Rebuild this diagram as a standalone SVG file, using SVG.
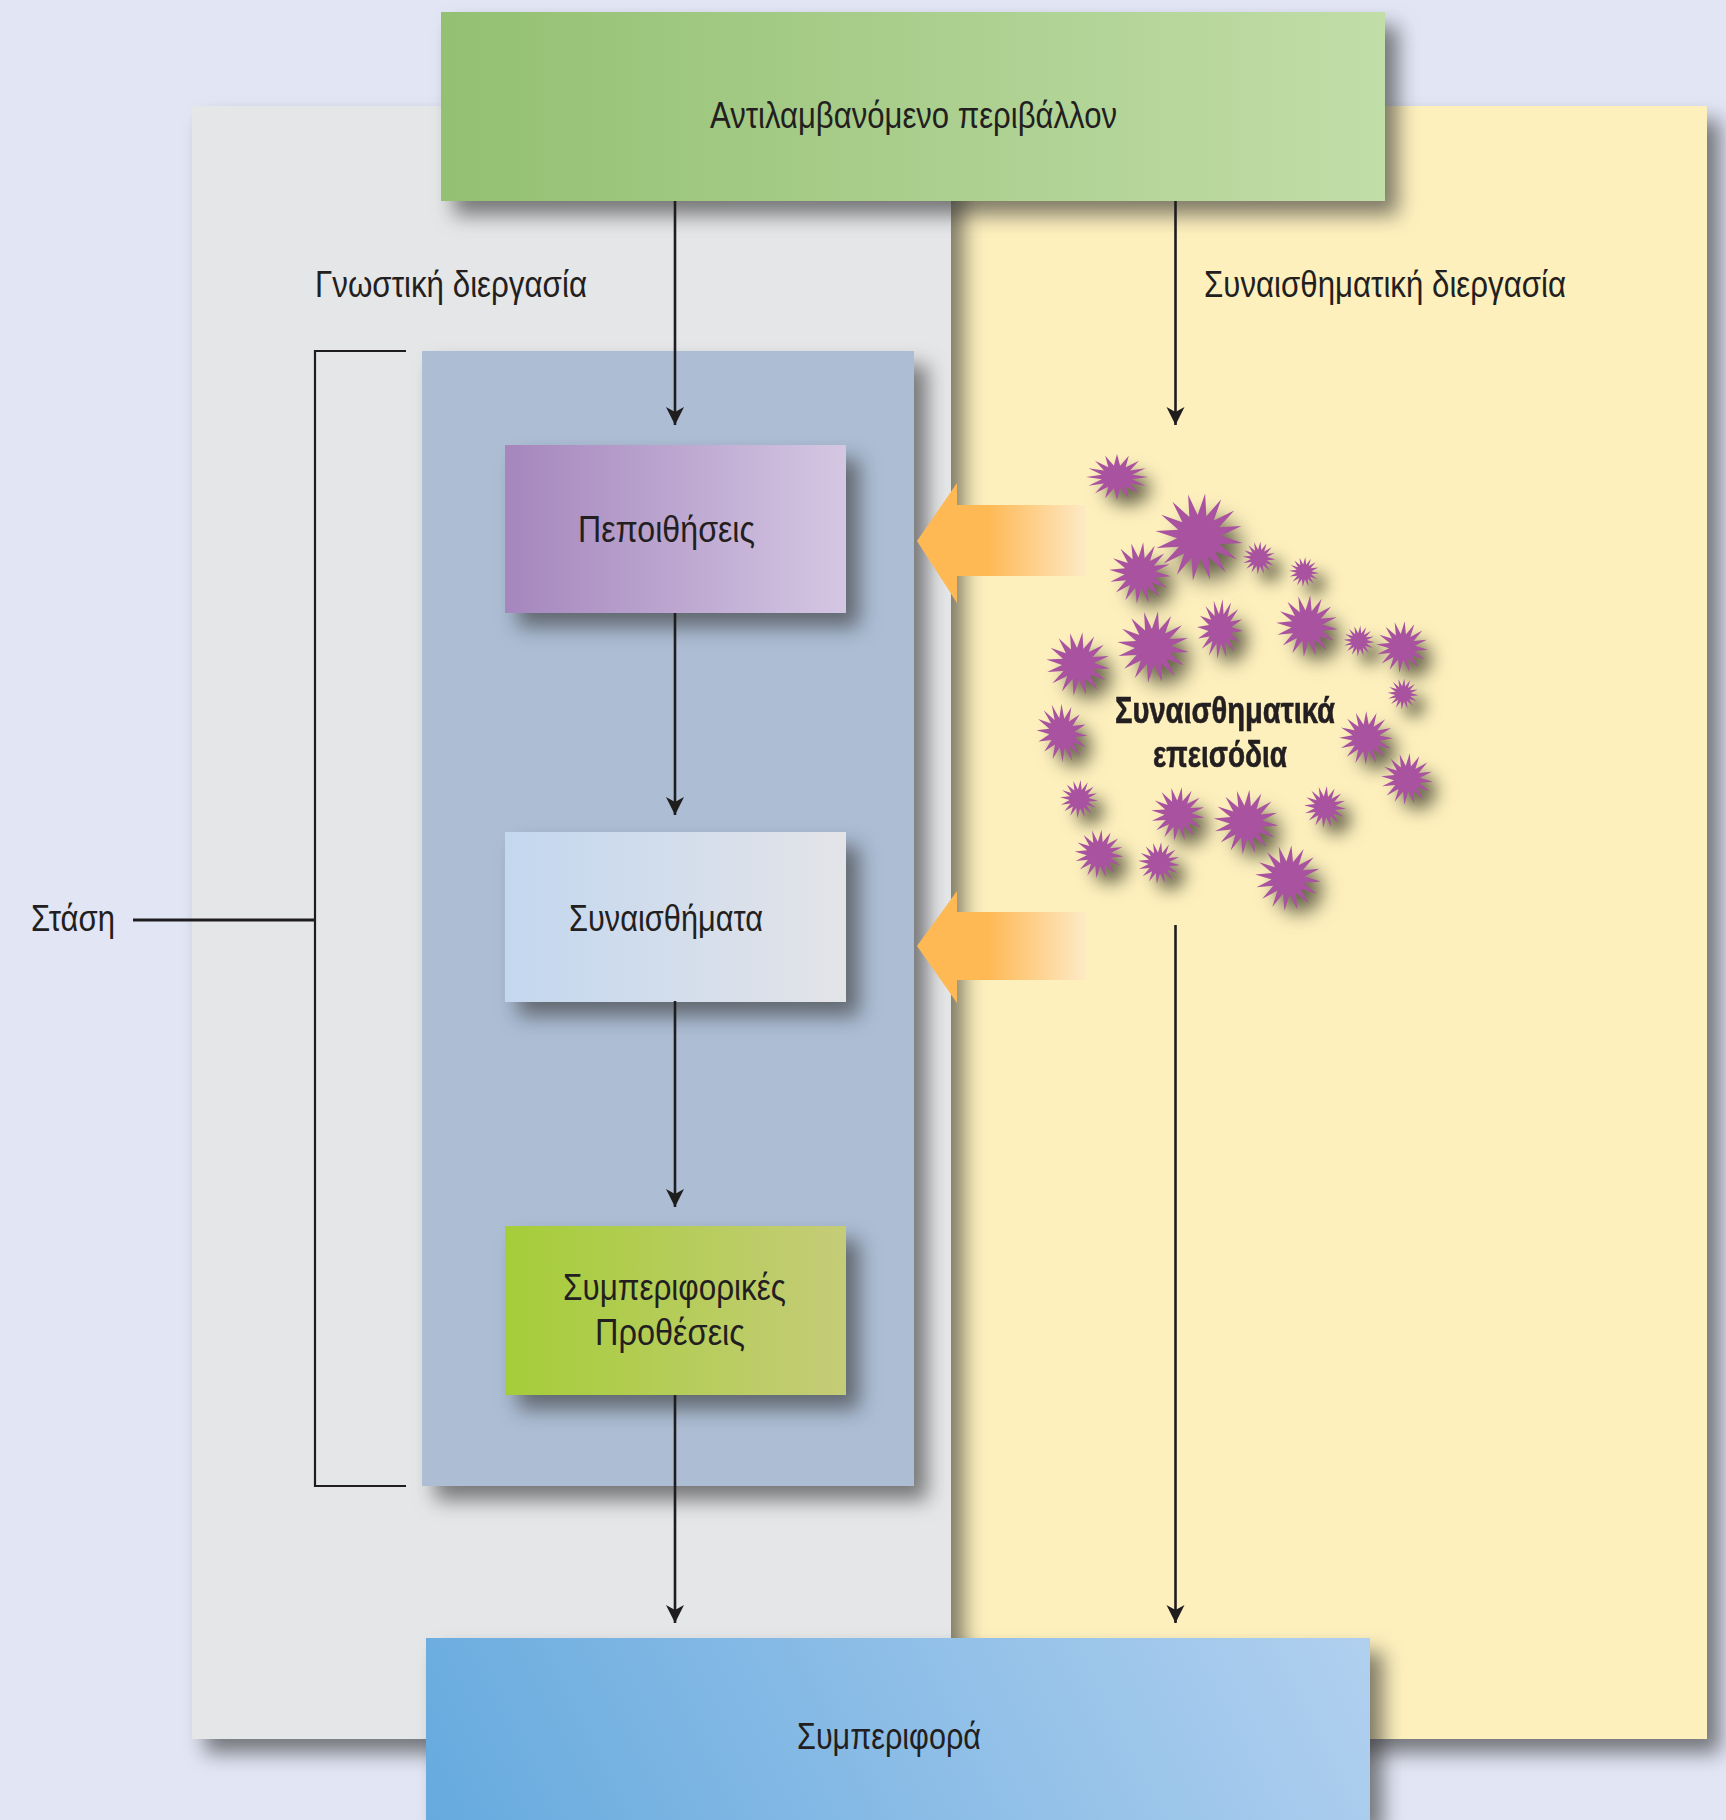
<svg xmlns="http://www.w3.org/2000/svg" width="1726" height="1820" viewBox="0 0 1726 1820">
<style>
text{font-family:"Liberation Sans",Arial,sans-serif;fill:#231f20;font-size:37px}
.b{font-weight:700;font-size:36px;stroke:#231f20;stroke-width:.6}
.c{fill:none;stroke:#1f1d1e;stroke-width:2.6}
.sq{fill:none;stroke:#1f1d1e;stroke-width:2.2}
.st{fill:#a9529f}
</style>
<defs>
<filter id="sh" x="-20%" y="-30%" width="150%" height="170%" color-interpolation-filters="sRGB"><feDropShadow dx="13" dy="14" stdDeviation="10" flood-color="#333" flood-opacity=".62"/></filter>
<filter id="ss" x="-20%" y="-20%" width="150%" height="150%" color-interpolation-filters="sRGB"><feDropShadow dx="11" dy="12" stdDeviation="8" flood-color="#4a4836" flood-opacity=".8"/></filter>
<linearGradient id="g1"><stop offset="0" stop-color="#93c072"/><stop offset="1" stop-color="#c1dda8"/></linearGradient>
<linearGradient id="g2"><stop offset="0" stop-color="#a586bd"/><stop offset="1" stop-color="#d4c7e3"/></linearGradient>
<linearGradient id="g3"><stop offset="0" stop-color="#c3d7ef"/><stop offset="1" stop-color="#e3e4e8"/></linearGradient>
<linearGradient id="g4"><stop offset="0" stop-color="#a5cd39"/><stop offset="1" stop-color="#c5cc78"/></linearGradient>
<linearGradient id="g5" gradientUnits="userSpaceOnUse" x1="426" y1="1820" x2="1300" y2="1383"><stop offset="0" stop-color="#66aade"/><stop offset="1" stop-color="#b5d2f0"/></linearGradient>
<linearGradient id="g6" gradientUnits="userSpaceOnUse" x1="917" y1="0" x2="1086" y2="0"><stop offset=".42" stop-color="#feb955"/><stop offset="1" stop-color="#fdeac6"/></linearGradient>
<marker id="ah" markerUnits="userSpaceOnUse" markerWidth="18" markerHeight="22" refX="18" refY="9" orient="auto"><path d="M0 0L18 9L0 18L5 9Z" fill="#1f1d1e"/></marker>
<path id="s" class="st" d="M100 0L49 10L92 38L42 28L71 71L28 42L38 92L10 49L0 100L-10 49L-38 92L-28 42L-71 71L-42 28L-92 38L-49 10L-100 0L-49 -10L-92 -38L-42 -28L-71 -71L-28 -42L-38 -92L-10 -49L0 -100L10 -49L38 -92L28 -42L71 -71L42 -28L92 -38L49 -10Z"/>
</defs>
<rect width="1726" height="1820" fill="#e1e5f4"/>
<g id="affective-panel"><rect x="950" y="106" width="757" height="1633" fill="#fdf0bd" filter="url(#sh)"/><text x="1204" y="297" textLength="362" lengthAdjust="spacingAndGlyphs">Συναισθηματική διεργασία</text></g>
<g id="cognitive-panel"><rect x="192" y="106" width="759" height="1633" fill="#e5e6e8" filter="url(#sh)"/><text x="315" y="297" textLength="272" lengthAdjust="spacingAndGlyphs">Γνωστική διεργασία</text></g>
<g id="attitude-panel"><rect x="422" y="351" width="492" height="1135" fill="#acbdd4" filter="url(#sh)"/></g>
<g id="environment"><rect x="441" y="12" width="944" height="189" fill="url(#g1)" filter="url(#sh)"/><text x="710" y="128" textLength="407" lengthAdjust="spacingAndGlyphs">Αντιλαμβανόμενο περιβάλλον</text></g>
<g id="beliefs"><rect x="505" y="445" width="341" height="168" fill="url(#g2)" filter="url(#sh)"/><text x="578" y="542" textLength="177" lengthAdjust="spacingAndGlyphs">Πεποιθήσεις</text></g>
<g id="feelings"><rect x="505" y="832" width="341" height="170" fill="url(#g3)" filter="url(#sh)"/><text x="569" y="931" textLength="194" lengthAdjust="spacingAndGlyphs">Συναισθήματα</text></g>
<g id="intentions"><rect x="505" y="1226" width="341" height="169" fill="url(#g4)" filter="url(#sh)"/><text x="563" y="1300" textLength="223" lengthAdjust="spacingAndGlyphs">Συμπεριφορικές</text><text x="595" y="1345" textLength="150" lengthAdjust="spacingAndGlyphs">Προθέσεις</text></g>
<g id="behavior"><rect x="426" y="1638" width="944" height="182" fill="url(#g5)" filter="url(#sh)"/><text x="797" y="1749" textLength="184" lengthAdjust="spacingAndGlyphs">Συμπεριφορά</text></g>
<g id="attitude-label"><text x="31" y="931" textLength="84" lengthAdjust="spacingAndGlyphs">Στάση</text></g>
<g id="connectors">
<path class="sq" d="M406 351H315V1486H406"/>
<path class="c" style="stroke-width:3" d="M133 920H315"/>
<path class="c" marker-end="url(#ah)" d="M675 201V425"/>
<path class="c" marker-end="url(#ah)" d="M1175.500 201V425"/>
<path class="c" marker-end="url(#ah)" d="M675 613V815"/>
<path class="c" marker-end="url(#ah)" d="M675 1001V1207"/>
<path class="c" marker-end="url(#ah)" d="M675 1395V1623"/>
<path class="c" marker-end="url(#ah)" d="M1175.500 925V1623"/>
<path d="M917 541L957 483V505H1086V576H957V603Z" fill="url(#g6)"/>
<path d="M917 946L957 891V912H1086V980H957V1003Z" fill="url(#g6)"/>
</g>
<g id="affective-episodes">
<g filter="url(#ss)">
<use href="#s" transform="translate(1117 477) scale(.31 .23)"/>
<use href="#s" transform="translate(1199 537) rotate(8) scale(.44)"/>
<use href="#s" transform="translate(1140 573) rotate(6) scale(.31)"/>
<use href="#s" transform="translate(1259 558) rotate(5) scale(.165)"/>
<use href="#s" transform="translate(1304 572) rotate(5) scale(.15)"/>
<use href="#s" transform="translate(1307 626) rotate(6) scale(.31)"/>
<use href="#s" transform="translate(1153 647) rotate(8) scale(.36)"/>
<use href="#s" transform="translate(1220 629) rotate(5) scale(.23 .3)"/>
<use href="#s" transform="translate(1078 664) rotate(8) scale(.32)"/>
<use href="#s" transform="translate(1359 641) rotate(5) scale(.155)"/>
<use href="#s" transform="translate(1402 647) rotate(6) scale(.26)"/>
<use href="#s" transform="translate(1403 694) rotate(5) scale(.155)"/>
<use href="#s" transform="translate(1062 733) rotate(-20) scale(.25 .3)"/>
<use href="#s" transform="translate(1366 738) rotate(-22) scale(.27)"/>
<use href="#s" transform="translate(1407 779) rotate(6) scale(.26)"/>
<use href="#s" transform="translate(1079 799) rotate(5) scale(.19)"/>
<use href="#s" transform="translate(1178 814) rotate(8) scale(.27)"/>
<use href="#s" transform="translate(1246 822) rotate(6) scale(.325)"/>
<use href="#s" transform="translate(1325 807) rotate(5) scale(.21)"/>
<use href="#s" transform="translate(1099 854) rotate(6) scale(.245)"/>
<use href="#s" transform="translate(1159 863) rotate(6) scale(.21)"/>
<use href="#s" transform="translate(1288 878) rotate(6) scale(.33)"/>
</g>
<text class="b" x="1115" y="723" textLength="220" lengthAdjust="spacingAndGlyphs">Συναισθηματικά</text>
<text class="b" x="1153" y="767" textLength="134" lengthAdjust="spacingAndGlyphs">επεισόδια</text>
</g>
</svg>
